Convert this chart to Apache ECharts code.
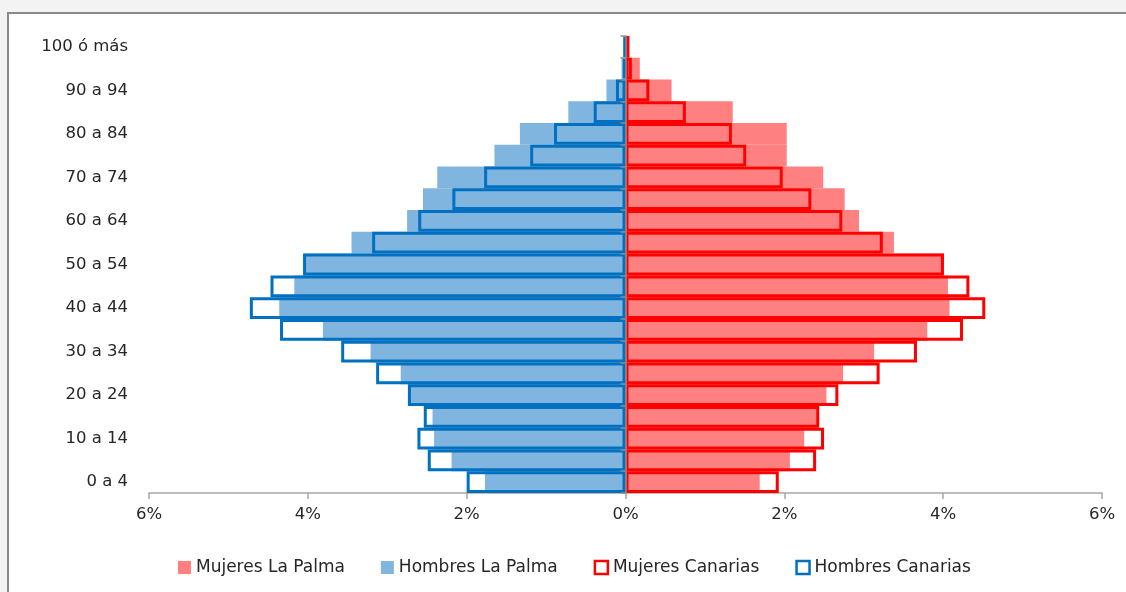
<!DOCTYPE html>
<html>
<head>
<meta charset="utf-8">
<title>Pirámide de población</title>
<script src="https://cdn.jsdelivr.net/npm/echarts@6/dist/echarts.min.js"></script>
<style>
  html, body { margin: 0; padding: 0; background: #f3f3f3; overflow: hidden; }
  #wrap { position: relative; width: 1126px; height: 592px; overflow: hidden; }
  #frame {
    position: absolute; left: 7px; top: 12px; width: 1200px; height: 700px;
    background: #ffffff; border-left: 2px solid #8a8a8a; border-top: 2px solid #8a8a8a;
  }
  #chart { position: absolute; left: 0; top: 0; width: 1126px; height: 592px; }
</style>
</head>
<body>
<div id="wrap">
  <div id="frame"></div>
  <div id="chart"></div>
</div>
<script>
// Age groups, bottom to top
const ageGroups = ['0 a 4', '5 a 9', '10 a 14', '15 a 19', '20 a 24', '25 a 29', '30 a 34',
  '35 a 39', '40 a 44', '45 a 49', '50 a 54', '55 a 59', '60 a 64', '65 a 69', '70 a 74',
  '75 a 79', '80 a 84', '85 a 89', '90 a 94', '95 a 99', '100 ó más'];

// Share of total population (%) by age group
const mujeresLaPalma = [1.69, 2.07, 2.25, 2.42, 2.53, 2.74, 3.13, 3.80, 4.08, 4.06, 4.01,
  3.38, 2.94, 2.76, 2.49, 2.03, 2.03, 1.35, 0.58, 0.18, 0.03];
const hombresLaPalma = [1.77, 2.19, 2.41, 2.43, 2.73, 2.83, 3.21, 3.81, 4.36, 4.17, 4.05,
  3.45, 2.75, 2.55, 2.37, 1.65, 1.33, 0.72, 0.24, 0.05, 0.01];
const mujeresCanarias = [1.93, 2.40, 2.50, 2.44, 2.68, 3.20, 3.67, 4.25, 4.53, 4.33, 4.01,
  3.24, 2.73, 2.34, 1.98, 1.52, 1.34, 0.76, 0.30, 0.08, 0.05];
const hombresCanarias = [2.00, 2.49, 2.62, 2.54, 2.74, 3.14, 3.58, 4.35, 4.73, 4.47, 4.06,
  3.19, 2.61, 2.18, 1.78, 1.20, 0.90, 0.40, 0.12, 0.03, 0.02];

// Value axis ticks (percent)
const axisMin = -6, axisMax = 6, axisStep = 2;

const FONT = 'DejaVu Sans';
const TEXT = '#262626';
const neg = arr => arr.map(v => -v);

const chart = echarts.init(document.getElementById('chart'), null, { renderer: 'canvas' });

chart.setOption({
  animation: false,
  backgroundColor: 'transparent',
  textStyle: { fontFamily: FONT },
  grid: { left: 149, right: 24, top: 36, bottom: 99, containLabel: false },
  xAxis: {
    type: 'value',
    min: axisMin,
    max: axisMax,
    interval: axisStep,
    axisLine: { show: true, onZero: false, lineStyle: { color: '#a6a6a6', width: 1.5 } },
    axisTick: { show: true, length: 6, lineStyle: { color: '#a6a6a6', width: 1.5 } },
    splitLine: { show: false },
    axisLabel: {
      margin: 13,
      color: TEXT,
      fontSize: 16.5,
      fontFamily: FONT,
      formatter: v => Math.abs(v) + '%'
    }
  },
  yAxis: [{
    type: 'category',
    data: ageGroups,
    position: 'left',
    axisLine: { show: false, onZero: false },
    axisTick: { show: false },
    axisLabel: {
      interval: 1, margin: 21, color: TEXT, fontSize: 16.5, fontFamily: FONT,
      verticalAlign: 'middle', padding: [4, 0, 0, 0]
    }
  }, {
    type: 'category',
    data: ageGroups,
    position: 'left',
    z: 5,
    axisLine: { show: true, onZero: true, lineStyle: { color: '#8c8c8c', width: 1.5 } },
    axisTick: { show: true, interval: 0, length: 5, lineStyle: { color: '#8c8c8c', width: 1.5 } },
    axisLabel: { show: false }
  }],
  legend: {
    left: 178,
    top: 559,
    padding: 0,
    itemWidth: 13,
    itemHeight: 13,
    itemGap: 36,
    icon: 'rect',
    textStyle: { fontSize: 17, color: TEXT, fontFamily: FONT },
    data: [
      { name: 'Mujeres La Palma', itemStyle: { color: '#ff8080' } },
      { name: 'Hombres La Palma', itemStyle: { color: '#80b5e0' } },
      { name: 'Mujeres Canarias', itemStyle: { color: '#ffffff', borderColor: '#ff0000', borderWidth: 2.5 } },
      { name: 'Hombres Canarias', itemStyle: { color: '#ffffff', borderColor: '#0070c0', borderWidth: 2.5 } }
    ]
  },
  series: [{
    name: 'Mujeres La Palma',
    type: 'bar',
    data: mujeresLaPalma,
    barGap: '-100%',
    barCategoryGap: '0%',
    itemStyle: { color: '#ff8080' },
    z: 2
  }, {
    name: 'Hombres La Palma',
    type: 'bar',
    data: neg(hombresLaPalma),
    barGap: '-100%',
    barCategoryGap: '0%',
    itemStyle: { color: '#80b5e0' },
    z: 2
  }, {
    name: 'Mujeres Canarias',
    type: 'bar',
    data: mujeresCanarias,
    barGap: '-100%',
    barCategoryGap: '0%',
    itemStyle: { color: 'rgba(0,0,0,0)', borderColor: '#ff0000', borderWidth: 3 },
    z: 3
  }, {
    name: 'Hombres Canarias',
    type: 'bar',
    data: neg(hombresCanarias),
    barGap: '-100%',
    barCategoryGap: '0%',
    itemStyle: { color: 'rgba(0,0,0,0)', borderColor: '#0070c0', borderWidth: 3 },
    z: 3
  }]
});
</script>
</body>
</html>
